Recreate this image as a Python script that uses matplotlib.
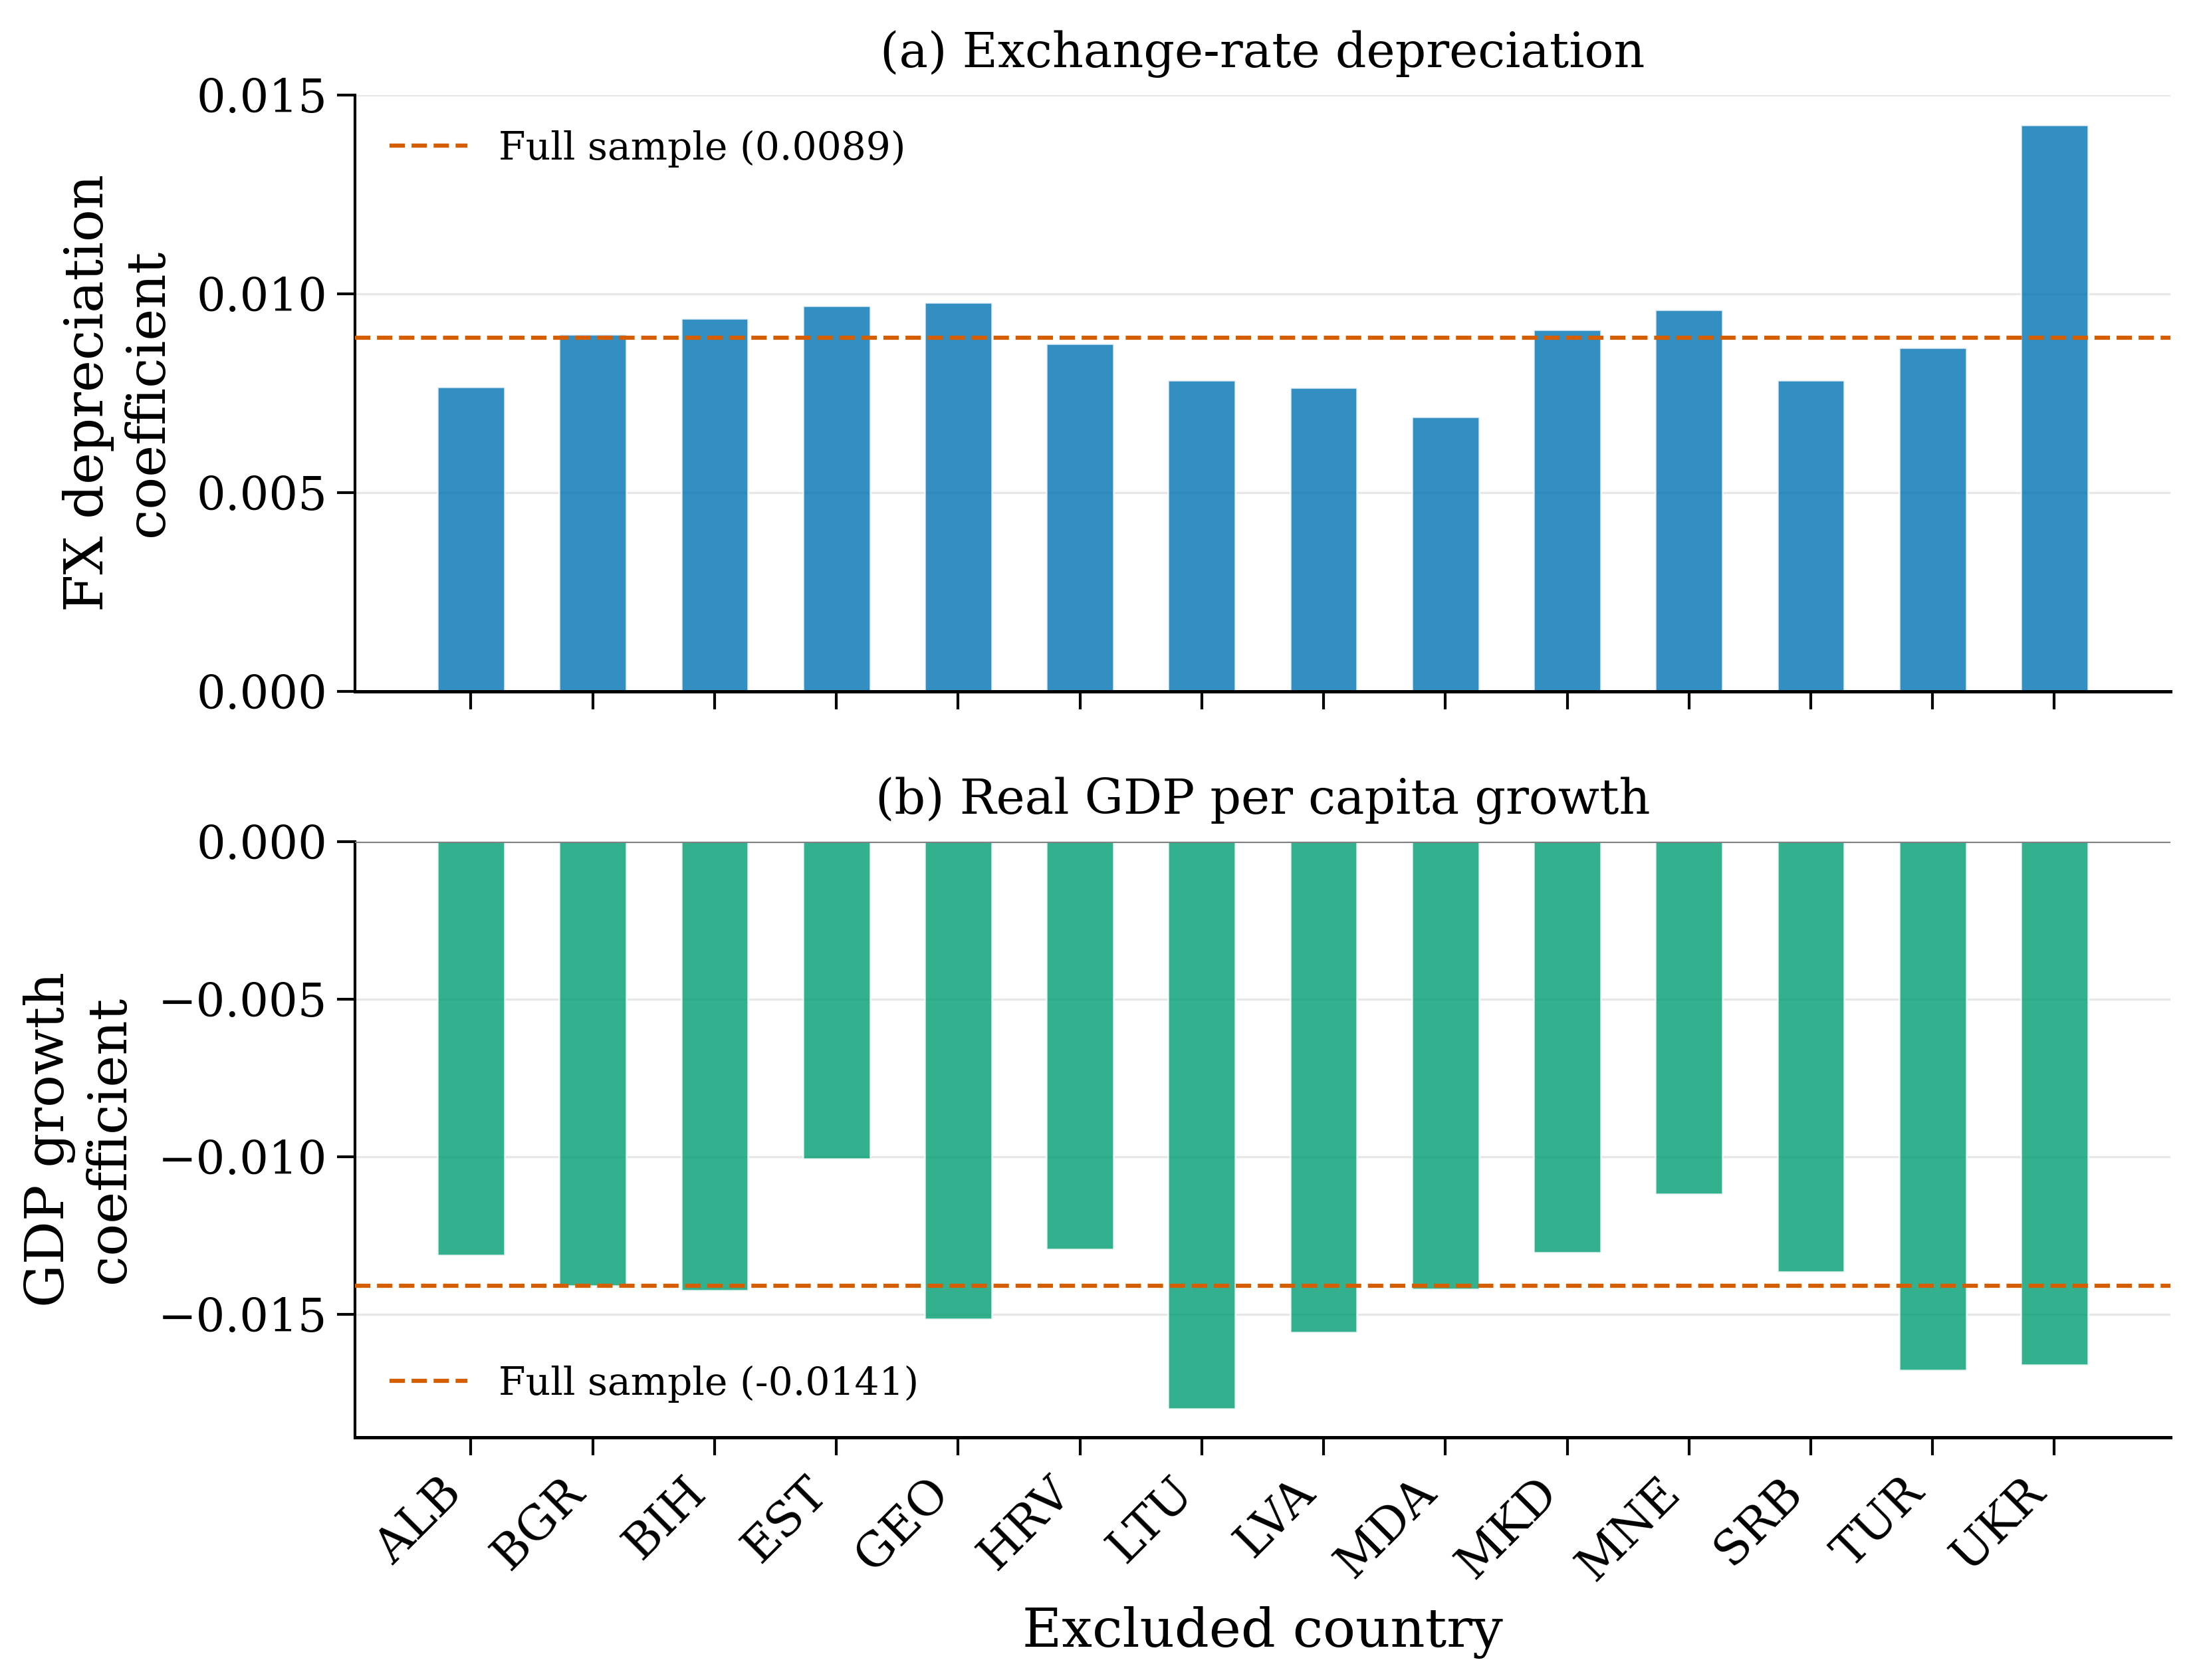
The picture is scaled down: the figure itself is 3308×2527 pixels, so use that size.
import numpy as np
import matplotlib
matplotlib.use("Agg")
from matplotlib import pyplot as plt

# Leave-one-out coefficients
countries = ['ALB', 'BGR', 'BIH', 'EST', 'GEO', 'HRV', 'LTU',
             'LVA', 'MDA', 'MKD', 'MNE', 'SRB', 'TUR', 'UKR']
fx_coef = [0.00766, 0.00897, 0.00938, 0.00970, 0.00978, 0.00874, 0.00782,
           0.00764, 0.00690, 0.00910, 0.00960, 0.00782, 0.00864, 0.01425]
gdp_coef = [-0.01312, -0.01410, -0.01425, -0.01008, -0.01515, -0.01293, -0.01801,
            -0.01558, -0.01421, -0.01304, -0.01118, -0.01365, -0.01677, -0.01661]
fx_full = 0.0089
gdp_full = -0.0141

plt.rcParams['font.family'] = 'DejaVu Serif'

blue = '#0072B2'
green = '#009E73'
orange = '#D55E00'

fig, (ax1, ax2) = plt.subplots(2, 1, sharex=True, figsize=(3308 / 300, 2527 / 300), dpi=300)
fig.subplots_adjust(left=0.1614, right=0.987, top=0.9434, bottom=0.1444, hspace=0.252)

x = np.arange(len(countries))

# (a) FX depreciation
ax1.bar(x, fx_coef, width=0.55, color=blue, alpha=0.8, edgecolor='white', linewidth=0.6, zorder=2)
ax1.axhline(fx_full, color=orange, linestyle='--', linewidth=1.5,
            label=f'Full sample ({fx_full:.4f})', zorder=3)
ax1.set_ylim(0, 0.015)
ax1.set_yticks([0, 0.005, 0.010, 0.015])
ax1.set_ylabel('FX depreciation\ncoefficient', fontsize=19.5, labelpad=8)
ax1.set_title('(a) Exchange-rate depreciation', fontsize=17.5, pad=10)
ax1.legend(loc='upper left', frameon=False, fontsize=14)

# (b) GDP growth
ax2.bar(x, gdp_coef, width=0.55, color=green, alpha=0.8, edgecolor='white', linewidth=0.6, zorder=2)
ax2.axhline(0, color='gray', linewidth=1.0, zorder=3)
ax2.axhline(gdp_full, color=orange, linestyle='--', linewidth=1.5,
            label=f'Full sample ({gdp_full:.4f})', zorder=3)
ax2.set_ylim(min(gdp_coef) * 1.05, 0)
ax2.set_yticks([-0.015, -0.010, -0.005, 0.0])
ax2.set_ylabel('GDP growth\ncoefficient', fontsize=19.5, labelpad=8)
ax2.set_title('(b) Real GDP per capita growth', fontsize=17.5, pad=10)
ax2.legend(loc='lower left', frameon=False, fontsize=14)
ax2.set_xticks(x)
ax2.set_xticklabels(countries, rotation=45, ha='right')
ax2.set_xlabel('Excluded country', fontsize=19.5, labelpad=6)

for ax in (ax1, ax2):
    ax.spines['top'].set_visible(False)
    ax.spines['right'].set_visible(False)
    ax.spines['left'].set_linewidth(1.0)
    ax.spines['bottom'].set_linewidth(1.2)
    ax.grid(axis='y', color='#dddddd', linewidth=0.8, alpha=0.7, zorder=0)
    ax.set_axisbelow(True)
    ax.tick_params(axis='both', labelsize=16.5, length=6.5, width=1.0)
    ax.yaxis.set_major_formatter(matplotlib.ticker.FormatStrFormatter('%.3f'))

ax2.tick_params(axis='x', labelsize=17, pad=5)
ax2.yaxis.set_major_formatter(matplotlib.ticker.FuncFormatter(
    lambda v, p: ('\u2212%.3f' % abs(v)) if v < 0 else '%.3f' % abs(v)))

fig.savefig('out.png', dpi=300)
